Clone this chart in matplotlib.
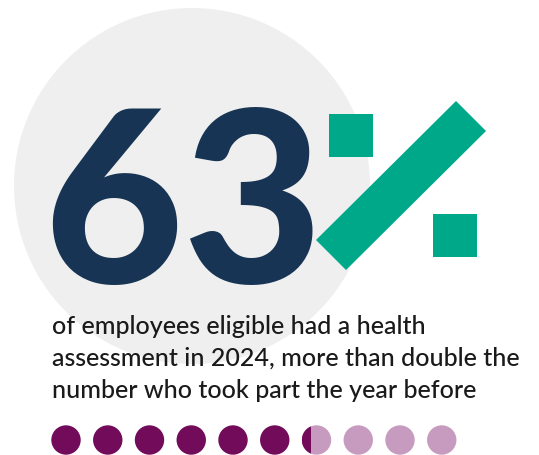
import matplotlib
matplotlib.use("Agg")
import matplotlib.pyplot as plt
from matplotlib.patches import Circle, Polygon, Rectangle
from matplotlib.textpath import TextPath
from matplotlib.font_manager import FontProperties

# ---- data ----
big_number = "63"
percent_value = 63
n_dots = 10
caption_lines = [
    "of employees eligible had a health",
    "assessment in 2024, more than double the",
    "number who took part the year before",
]

# ---- style ----
NAVY = "#173454"
GREEN = "#00A88A"
PURPLE = "#720B5A"
LIGHT_PURPLE = "#C69BBF"
GRAY = "#EFEFEF"
TEXT = "#1A1A1A"

W, H, DPI = 539, 455, 100
fig = plt.figure(figsize=(W / DPI, H / DPI), dpi=DPI)
ax = fig.add_axes([0, 0, 1, 1])
ax.set_xlim(0, W)
ax.set_ylim(H, 0)
ax.set_aspect("equal")
ax.axis("off")

# background circle
ax.add_patch(Circle((192, 186), 178, color=GRAY, zorder=0, lw=0))

# big number
fp_big = FontProperties(family="Lato", weight="black")
tp = TextPath((0, 0), big_number, size=100, prop=fp_big)
ext = tp.get_extents()
target_h = 179.0
fs_big = target_h * 72 / DPI * 100 / ext.height
scale_px = fs_big / 100 * DPI / 72
glyph_w = ext.width * scale_px
x_left = 52 + (260 - glyph_w) / 2
ax.text(x_left - ext.x0 * scale_px, 283, big_number, fontproperties=fp_big,
        fontsize=fs_big, color=NAVY, ha="left", va="baseline", zorder=2)

# percent sign
ax.add_patch(Polygon([(329, 114), (373, 114), (373, 157), (329, 157)],
                     closed=True, color=GREEN, lw=0, zorder=3))
ax.add_patch(Polygon([(433, 214), (477, 214), (477, 257), (433, 257)],
                     closed=True, color=GREEN, lw=0, zorder=3))
ax.add_patch(Polygon([(456, 101), (486, 131), (346, 270), (316, 240)],
                     closed=True, color=GREEN, lw=0, zorder=3))

# caption
fp_txt = FontProperties(family="Lato", weight="medium")
fs_txt = 15.0
texts = []
for i, line in enumerate(caption_lines):
    t = ax.text(52, 334 + 32 * i, line, fontproperties=fp_txt, fontsize=fs_txt,
                color=TEXT, ha="left", va="baseline", zorder=4)
    texts.append(t)
fig.canvas.draw()
r = fig.canvas.get_renderer()
w2 = texts[1].get_window_extent(r).width
fs_new = fs_txt * 468 / w2
for t in texts:
    t.set_fontsize(fs_new)

# dots
filled = percent_value / 100 * n_dots
x0, dx, yc, rad = 66, 41.75, 440, 14.7
for i in range(n_dots):
    cx = x0 + dx * i
    frac = min(max(filled - i, 0), 1)
    if frac >= 1:
        ax.add_patch(Circle((cx, yc), rad, color=PURPLE, lw=0, zorder=2))
    else:
        ax.add_patch(Circle((cx, yc), rad, color=LIGHT_PURPLE, lw=0, zorder=2))
        if frac > 0:
            c = Circle((cx, yc), rad, color=PURPLE, lw=0, zorder=3)
            ax.add_patch(c)
            clip = Rectangle((cx - rad, yc - rad), 2 * rad * frac, 2 * rad,
                             transform=ax.transData, visible=False)
            ax.add_patch(clip)
            c.set_clip_path(clip)

fig.savefig("out.png", dpi=DPI)
